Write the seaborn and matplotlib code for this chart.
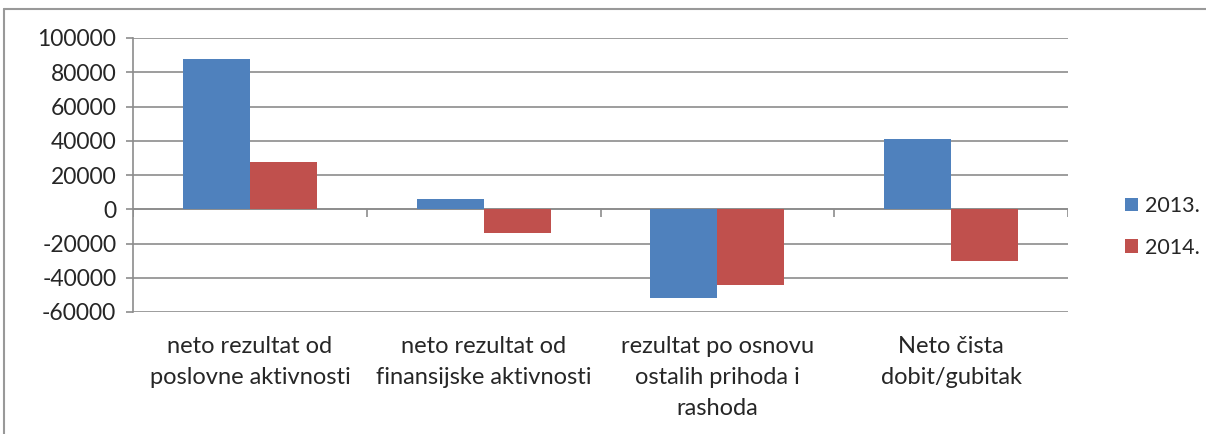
import pandas as pd
import numpy as np
import matplotlib.pyplot as plt
import seaborn as sns
from matplotlib.lines import Line2D

categories = ['neto rezultat od\nposlovne aktivnosti',
              'neto rezultat od\nfinansijske aktivnosti',
              'rezultat po osnovu\nostalih prihoda i\nrashoda',
              'Neto čista\ndobit/gubitak']
years = ['2013.', '2014.']
values_2013 = [87500, 5800, -52000, 41000]
values_2014 = [27800, -14100, -44300, -30000]
colors = ['#4F81BD', '#C0504D']
grid_color = '#8C8C8C'

df = pd.DataFrame({
    'kategorija': categories * 2,
    'godina': [years[0]] * 4 + [years[1]] * 4,
    'iznos': values_2013 + values_2014,
})

sns.set_style('white')
plt.rcParams['font.family'] = ['Lato', 'DejaVu Sans']

fig = plt.figure(figsize=(12.06, 4.34), dpi=100)
ax = fig.add_axes([133 / 1206, 1 - 312 / 434, (1068 - 133) / 1206, (312 - 38) / 434])

sns.barplot(data=df, x='kategorija', y='iznos', hue='godina', palette=colors,
            width=0.573, gap=0, saturation=1, linewidth=0, ax=ax, legend=True)

ax.set_ylim(-60000, 100000)
ax.set_xlim(-0.5, 3.5)
ax.set_yticks(np.arange(-60000, 100001, 20000))
ax.set_yticklabels([str(v) for v in range(-60000, 100001, 20000)])
ax.yaxis.grid(True, color=grid_color, linewidth=1.2)
ax.set_axisbelow(True)
for s in ['top', 'right', 'bottom']:
    ax.spines[s].set_visible(False)
ax.spines['left'].set_color(grid_color)
ax.spines['left'].set_linewidth(1.2)
ax.tick_params(axis='y', length=5, width=1.2, color=grid_color, pad=7, labelsize=16.5, left=True)
ax.tick_params(axis='x', length=0, pad=17, labelsize=17)
for lbl in ax.get_xticklabels():
    lbl.set_linespacing(1.6)
ax.set_xlabel('')
ax.set_ylabel('')

# zero line with category separator ticks
ax.axhline(0, color=grid_color, linewidth=1.2, zorder=0)
ax.vlines(np.arange(-0.5, 4, 1), -4500, 0, color=grid_color, linewidth=1.2, zorder=0)

# legend at the right
handles, labels = ax.get_legend_handles_labels()
ax.get_legend().remove()
fig.legend(handles, labels, loc='center left', bbox_to_anchor=(1106 / 1206, 1 - 227 / 434),
           frameon=False, fontsize=15.5, handlelength=0.6, handleheight=0.6,
           handletextpad=0.3, labelspacing=1.0)

# outer chart frame (left and top edges)
fig.add_artist(Line2D([4 / 1206, 4 / 1206], [0, 1 - 9 / 434], color='#999999', linewidth=1.5))
fig.add_artist(Line2D([4 / 1206, 1], [1 - 9 / 434, 1 - 9 / 434], color='#999999', linewidth=1.5))

plt.savefig('out.png', dpi=100)
